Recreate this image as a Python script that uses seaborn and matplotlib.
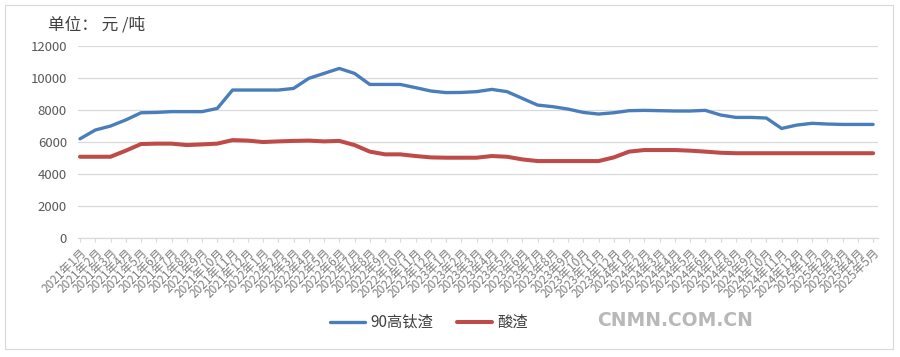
import pandas as pd
import matplotlib
matplotlib.use("Agg")
import matplotlib.pyplot as plt
import seaborn as sns
from matplotlib.patches import Rectangle

# months 2021-01 .. 2025-05
months = [f"{y}年{m}月" for y in range(2021, 2026) for m in range(1, 13)][:53]

high_ti = [6200, 6750, 7000, 7380, 7830, 7850, 7900, 7900, 7900, 8100,
           9250, 9250, 9250, 9250, 9350, 9980, 10290, 10600, 10290, 9600,
           9600, 9600, 9400, 9190, 9090, 9100, 9150, 9290, 9150, 8730,
           8310, 8210, 8060, 7850, 7750, 7830, 7960, 7980, 7960, 7940,
           7940, 7980, 7690, 7540, 7540, 7500, 6850, 7060, 7170, 7125,
           7100, 7100, 7100]

acid = [5080, 5080, 5080, 5460, 5875, 5900, 5900, 5810, 5850, 5900,
        6120, 6090, 6000, 6040, 6070, 6090, 6040, 6070, 5810, 5400,
        5230, 5230, 5125, 5040, 5020, 5020, 5020, 5125, 5080, 4915,
        4810, 4810, 4810, 4810, 4810, 5040, 5400, 5500, 5500, 5500,
        5460, 5400, 5330, 5300, 5300, 5300, 5300, 5300, 5300, 5300,
        5300, 5300, 5300]

series_names = ["90高钛渣", "酸渣"]

df = pd.DataFrame({
    "idx": list(range(len(months))) * 2,
    "price": high_ti + acid,
    "series": [series_names[0]] * len(months) + [series_names[1]] * len(months),
})

sns.set_style("white")
plt.rcParams['font.family'] = ['Noto Sans CJK SC', 'DejaVu Sans']

fig = plt.figure(figsize=(9, 3.57), dpi=100)
ax = fig.add_axes([0.0867, 0.3333, 0.889, 0.5377])

sns.lineplot(data=df, x="idx", y="price", hue="series",
             palette={"90高钛渣": "#4A7EBB", "酸渣": "#BE4B48"},
             ax=ax, legend=False)
for line, lw in zip(ax.lines, [2.4, 2.9]):
    line.set_linewidth(lw)
    line.set_solid_capstyle("round")

ax.set_ylim(0, 12000)
ax.set_xlim(-0.13, 52.33)
ax.set_yticks(range(0, 12001, 2000))
ax.yaxis.grid(True, color="#D9D9D9", linewidth=0.9)
ax.set_axisbelow(True)
for s in ["top", "right", "left"]:
    ax.spines[s].set_visible(False)
ax.spines["bottom"].set_color("#D9D9D9")
ax.spines["bottom"].set_linewidth(0.9)

ax.set_xticks(range(len(months)))
ax.set_xticklabels(months, rotation=45, ha="right", rotation_mode="anchor",
                   fontsize=8.5, color="#7F7F7F")
ax.tick_params(axis="x", length=3, width=0.8, color="#D9D9D9", pad=3, direction="out", bottom=True)
ax.tick_params(axis="y", length=0, labelsize=9.5, labelcolor="#595959", pad=8)
ax.set_xlabel("")
ax.set_ylabel("")

fig.text(0.053, 0.93, "单位： 元 /吨", fontsize=12, color="#404040", va="center", ha="left")

# legend
fig.lines.extend([
    plt.Line2D([330 / 900, 365 / 900], [1 - 322 / 357] * 2, color="#4A7EBB", lw=2.4, transform=fig.transFigure),
    plt.Line2D([457 / 900, 492 / 900], [1 - 322 / 357] * 2, color="#BE4B48", lw=2.9, transform=fig.transFigure),
])
fig.text(370 / 900, 1 - 322 / 357, series_names[0], fontsize=11, color="#404040", va="center", ha="left")
fig.text(497 / 900, 1 - 322 / 357, series_names[1], fontsize=11, color="#404040", va="center", ha="left")
fig.text(597 / 900, 1 - 321 / 357, "CNMN.COM.CN", fontsize=13.5, color="#B8B8B8", va="center", ha="left",
         fontweight="bold", family=["DejaVu Sans"])

fig.patches.append(Rectangle((5 / 900, 8 / 357), 888 / 900, 344 / 357, transform=fig.transFigure,
                             fill=False, edgecolor="#D9D9D9", linewidth=0.8))

fig.savefig("out.png", dpi=100)
plt.close(fig)
